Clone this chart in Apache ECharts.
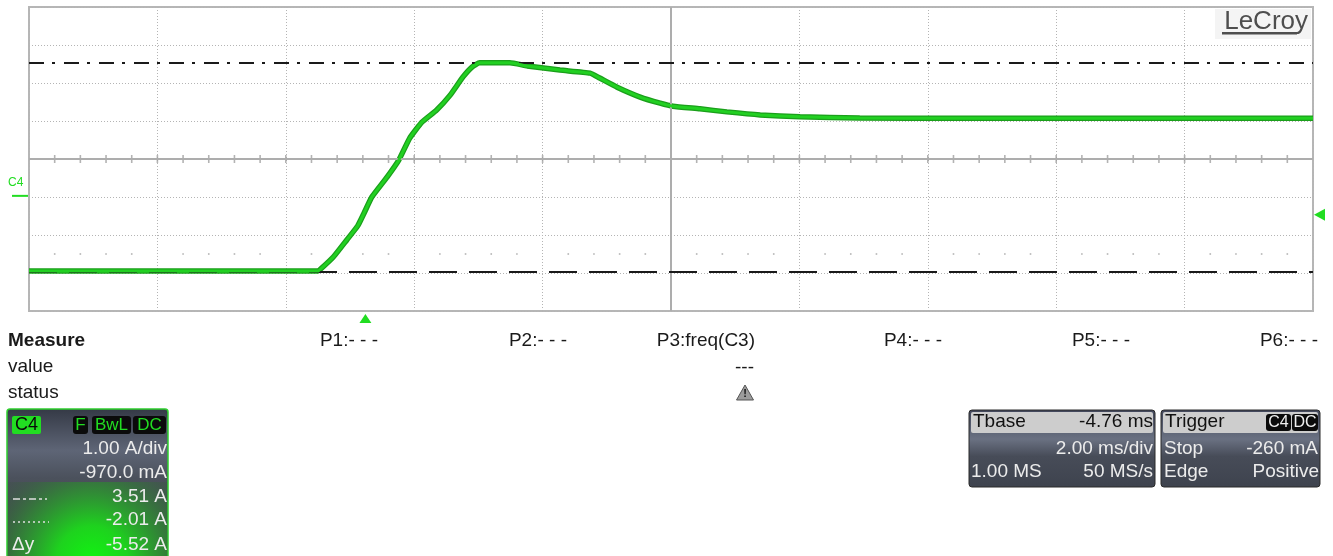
<!DOCTYPE html>
<html>
<head>
<meta charset="utf-8">
<title>C4 current step</title>
<script src="https://cdn.jsdelivr.net/npm/echarts@6/dist/echarts.min.js"></script>
<style>
  html, body { margin: 0; padding: 0; background: #ffffff; }
  #main { width: 1333px; height: 556px; }
</style>
</head>
<body>
<div id="main"></div>
<script>
// Channel C4 vertical settings
const ampsPerDiv = 1.0;          // A/div
const channelOffset = -0.970;    // A
// Timebase
const timePerDiv = 2.0;          // ms/div
const divisionsX = 10;
const divisionsY = 8;
// Trigger point, in ms from the left edge of the screen
const triggerTime = 5.24;
const triggerMarkerLevel = -0.50;   // A, right-edge level marker

// C4 trace: time (ms from the left edge of the screen) and current (A)
const traceTime = [0, 4.50, 4.56, 4.74, 4.95, 5.12, 5.22, 5.34, 5.58, 5.76, 5.93, 6.12, 6.35, 6.56, 6.76, 6.90, 7.02, 7.49, 7.76, 8.27, 8.74, 8.89, 9.16, 9.52, 9.83, 10.03, 10.45, 10.87, 11.39, 12.01, 12.94, 14.50, 16.70, 20.00];
const traceCurrent = [-1.98, -1.98, -1.90, -1.61, -1.16, -0.79, -0.45, -0.03, 0.50, 0.94, 1.52, 1.94, 2.26, 2.65, 3.13, 3.39, 3.50, 3.50, 3.42, 3.31, 3.23, 3.10, 2.86, 2.60, 2.44, 2.36, 2.29, 2.21, 2.13, 2.08, 2.05, 2.04, 2.04, 2.04];

// Horizontal cursors (A)
const cursorLevels = [3.51, -2.01];

// Measurement slots
const measureLabels = ['P1:- - -', 'P2:- - -', 'P3:freq(C3)', 'P4:- - -', 'P5:- - -', 'P6:- - -'];

// Info boxes
const channelLines = ['1.00 A/div', '-970.0 mA'];
const tbaseLines = { delay: '-4.76 ms', scale: '2.00 ms/div', samples: '1.00 MS', rate: '50 MS/s' };
const triggerLines = { mode: 'Stop', level: '-260 mA', type: 'Edge', slope: 'Positive' };

const FONT = '"Liberation Sans", Arial, sans-serif';
const GREEN = '#22dd22';

const centerLevel = -channelOffset;
const yMin = +(centerLevel - divisionsY / 2 * ampsPerDiv).toFixed(2);
const yMax = +(centerLevel + divisionsY / 2 * ampsPerDiv).toFixed(2);
const xMax = divisionsX * timePerDiv;
const minorStep = timePerDiv / 5;

// graticule tick marks along the centre line and the dotted half-division row
const centreTicks = [];
const halfDivDots = [];
for (let i = 1; i < divisionsX * 5; i++) {
  const t = +(i * minorStep).toFixed(3);
  if (i !== divisionsX * 5 / 2) centreTicks.push([t, centerLevel]);
  if (i % 5 !== 0) halfDivDots.push([t, +(yMin + 1.5 * ampsPerDiv).toFixed(2)]);
}

const chart = echarts.init(document.getElementById('main'), null, { renderer: 'canvas' });

const gridLine = { show: true, lineStyle: { color: '#b4b4b4', width: 1, type: [1, 2] } };
const traceData = traceTime.map((t, i) => [t, traceCurrent[i]]);

chart.setOption({
  animation: false,
  grid: { left: 29, top: 7, width: 1284, height: 304, show: true, borderColor: '#b6b6b6', borderWidth: 2, backgroundColor: 'transparent' },
  xAxis: {
    type: 'value', min: 0, max: xMax, interval: timePerDiv,
    axisLine: { show: false }, axisTick: { show: false }, axisLabel: { show: false },
    splitLine: gridLine
  },
  yAxis: {
    type: 'value', min: yMin, max: yMax, interval: ampsPerDiv,
    axisLine: { show: false }, axisTick: { show: false }, axisLabel: { show: false },
    splitLine: gridLine
  },
  series: [
    {
      name: 'graticule', type: 'line', data: [], silent: true, z: 1,
      markLine: {
        silent: true, symbol: 'none', label: { show: false },
        lineStyle: { color: '#adadad', width: 2, type: 'solid' },
        emphasis: { disabled: true },
        data: [{ xAxis: xMax / 2 }, { yAxis: centerLevel }]
      }
    },
    {
      name: 'centre ticks', type: 'scatter', data: centreTicks, silent: true, z: 1,
      symbol: 'rect', symbolSize: [1.6, 8], itemStyle: { color: '#a0a0a0' }
    },
    {
      name: 'half-division dots', type: 'scatter', data: halfDivDots, silent: true, z: 1,
      symbol: 'rect', symbolSize: 1.6, itemStyle: { color: '#a0a0a0' }
    },
    {
      name: 'cursors', type: 'line', data: [], silent: true, z: 2,
      markLine: {
        silent: true, symbol: 'none', label: { show: false },
        emphasis: { disabled: true },
        data: [
          { yAxis: cursorLevels[0], lineStyle: { color: '#1a1a1a', width: 2, type: [15, 8, 3, 9] } },
          { yAxis: cursorLevels[1], lineStyle: { color: '#1a1a1a', width: 2, type: [28, 12] } }
        ]
      }
    },
    {
      name: 'C4 envelope', type: 'line', z: 4, silent: true,
      data: traceData, showSymbol: false, symbol: 'none', smooth: 0.15,
      lineStyle: { color: '#1b9f1b', width: 5.5 }
    },
    {
      name: 'C4', type: 'line', z: 5, silent: true,
      data: traceData, showSymbol: false, symbol: 'none', smooth: 0.15,
      lineStyle: { color: '#22d022', width: 3 }
    }
  ]
});

// ---- annotations around the graticule ----
function txt(x, y, text, o) {
  o = o || {};
  return {
    type: 'text', silent: true, z: o.z || 20,
    style: {
      x: x, y: y, text: text,
      fill: o.fill || '#1a1a1a',
      font: (o.weight || 'normal') + ' ' + (o.size || 19) + 'px ' + FONT,
      textAlign: o.align || 'left',
      textVerticalAlign: 'middle'
    }
  };
}
function rect(x, y, w, h, fill, o) {
  o = o || {};
  return {
    type: 'rect', silent: true, z: o.z || 10,
    shape: { x: x, y: y, width: w, height: h, r: o.r || 0 },
    style: { fill: fill, stroke: o.stroke || null, lineWidth: o.lw || 0 }
  };
}

const px = (t, v) => chart.convertToPixel({ gridIndex: 0 }, [t, v]);
const groundY = px(0, 0)[1];
const trigX = px(triggerTime, 0)[0];
const trigLvlY = px(0, triggerMarkerLevel)[1];
const plotBottom = px(0, yMin)[1];
const plotRight = px(xMax, 0)[0];

const g = [];

// LeCroy logo
g.push(rect(1215, 9, 96, 30, '#f4f4f4', { z: 8 }));
g.push(txt(1308, 22, 'LeCroy', { size: 26, fill: '#4e4e4e', align: 'right' }));
g.push(rect(1222, 32, 75, 2.5, '#4e4e4e'));

// channel ground marker
g.push(txt(8, 183, 'C4', { size: 12, fill: GREEN }));
g.push({ type: 'line', silent: true, z: 20, shape: { x1: 12, y1: groundY, x2: 28, y2: groundY }, style: { stroke: GREEN, lineWidth: 2 } });

// trigger position and trigger level markers
g.push({ type: 'polygon', silent: true, z: 20, shape: { points: [[trigX, plotBottom + 3], [trigX + 6, plotBottom + 12], [trigX - 6, plotBottom + 12]] }, style: { fill: GREEN } });
g.push({ type: 'polygon', silent: true, z: 20, shape: { points: [[plotRight + 1, trigLvlY], [plotRight + 12, trigLvlY - 6], [plotRight + 12, trigLvlY + 6]] }, style: { fill: GREEN } });

// measurement table
g.push(txt(8, 341, 'Measure', { weight: 'bold' }));
g.push(txt(8, 367, 'value'));
g.push(txt(8, 393, 'status'));
const slotRight = [378, 567, 755, 942, 1130, 1318];
measureLabels.forEach((s, i) => g.push(txt(slotRight[i], 341, s, { align: 'right' })));
g.push(txt(754, 368, '---', { align: 'right' }));
g.push({ type: 'polygon', silent: true, z: 20, shape: { points: [[745, 385], [753.5, 400], [736.5, 400]] }, style: { fill: '#9c9c9c', stroke: '#555555', lineWidth: 1 } });
g.push(txt(745, 394, '!', { size: 11, weight: 'bold', align: 'center', fill: '#111111' }));

// C4 channel descriptor box
g.push(rect(7, 409, 161, 150, new echarts.graphic.LinearGradient(0, 0, 0, 1, [
  { offset: 0, color: '#343945' }, { offset: 0.28, color: '#5e6576' }, { offset: 0.46, color: '#4b515c' }, { offset: 1, color: '#3a4440' }
]), { r: 3, stroke: '#2fd02f', lw: 1.5 }));
g.push(rect(8, 482, 159, 76, new echarts.graphic.RadialGradient(92, 562, 120, [
  { offset: 0, color: 'rgba(16,245,16,1)' }, { offset: 0.3, color: 'rgba(30,210,30,1)' },
  { offset: 0.65, color: 'rgba(50,130,55,0.85)' }, { offset: 1, color: 'rgba(60,75,70,0.2)' }
], true), { z: 11 }));
g.push(rect(12, 416, 29, 18, GREEN, { r: 2, z: 12 }));
g.push(txt(26.5, 425, 'C4', { size: 18, fill: '#0a0a0a', align: 'center' }));
[['F', 73, 15], ['BwL', 92, 39], ['DC', 133, 33]].forEach(b => {
  g.push(rect(b[1], 416, b[2], 18, '#0b0b0b', { r: 3, z: 12 }));
  g.push(txt(b[1] + b[2] / 2, 425, b[0], { size: 17, fill: GREEN, align: 'center' }));
});
g.push(txt(167, 449, channelLines[0], { fill: '#ececec', align: 'right' }));
g.push(txt(167, 473, channelLines[1], { fill: '#ececec', align: 'right' }));
g.push(txt(167, 497, cursorLevels[0].toFixed(2) + ' A', { fill: '#ececec', align: 'right' }));
g.push(txt(167, 520, cursorLevels[1].toFixed(2) + ' A', { fill: '#ececec', align: 'right' }));
g.push(txt(167, 545, (cursorLevels[1] - cursorLevels[0]).toFixed(2) + ' A', { fill: '#ececec', align: 'right' }));
g.push({ type: 'line', silent: true, z: 20, shape: { x1: 13, y1: 499, x2: 47, y2: 499 }, style: { stroke: '#e0e0e0', lineWidth: 1.5, lineDash: [7, 3, 3, 3] } });
g.push({ type: 'line', silent: true, z: 20, shape: { x1: 13, y1: 522, x2: 49, y2: 522 }, style: { stroke: '#e0e0e0', lineWidth: 1.5, lineDash: [2, 3] } });
g.push(txt(12, 545, 'Δy', { fill: '#ececec' }));

// timebase box
const bodyGrad = () => new echarts.graphic.LinearGradient(0, 0, 0, 1, [
  { offset: 0, color: '#41465a' }, { offset: 0.38, color: '#6a7182' }, { offset: 0.6, color: '#474c58' }, { offset: 1, color: '#3e434e' }
]);
g.push(rect(969, 410, 186, 77, bodyGrad(), { r: 3, stroke: '#2a2a2a', lw: 1 }));
g.push(rect(971, 412, 182, 21, '#cdcdcd', { r: 2, z: 11 }));
g.push(txt(973, 422, 'Tbase', { fill: '#111111' }));
g.push(txt(1153, 422, tbaseLines.delay, { fill: '#111111', align: 'right' }));
g.push(txt(1153, 449, tbaseLines.scale, { fill: '#ececec', align: 'right' }));
g.push(txt(971, 472, tbaseLines.samples, { fill: '#ececec' }));
g.push(txt(1153, 472, tbaseLines.rate, { fill: '#ececec', align: 'right' }));

// trigger box
g.push(rect(1161, 410, 159, 77, bodyGrad(), { r: 3, stroke: '#2a2a2a', lw: 1 }));
g.push(rect(1163, 412, 155, 21, '#cdcdcd', { r: 2, z: 11 }));
g.push(txt(1165, 422, 'Trigger', { fill: '#111111' }));
g.push(rect(1266, 414, 25, 17, '#0b0b0b', { r: 3, z: 12 }));
g.push(txt(1278.5, 422.5, 'C4', { size: 16, fill: '#f0f0f0', align: 'center' }));
g.push(rect(1292, 414, 26, 17, '#0b0b0b', { r: 3, z: 12 }));
g.push(txt(1305, 422.5, 'DC', { size: 16, fill: '#f0f0f0', align: 'center' }));
g.push(txt(1164, 449, triggerLines.mode, { fill: '#ececec' }));
g.push(txt(1318, 449, triggerLines.level, { fill: '#ececec', align: 'right' }));
g.push(txt(1164, 472, triggerLines.type, { fill: '#ececec' }));
g.push(txt(1319, 472, triggerLines.slope, { fill: '#ececec', align: 'right' }));

chart.setOption({ graphic: { elements: g } });
</script>
</body>
</html>
